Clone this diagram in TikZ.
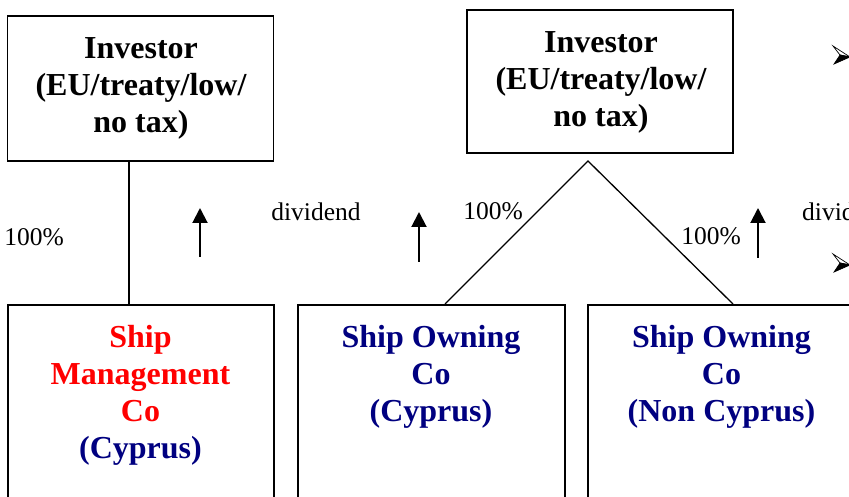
\documentclass[tikz,border=0pt]{standalone}
\usepackage{fontspec}
\setmainfont{Liberation Serif}
\usetikzlibrary{arrows.meta}
\definecolor{navyco}{RGB}{0,0,128}
\definecolor{redco}{RGB}{255,0,0}
\begin{document}
\begin{tikzpicture}[x=1pt,y=1pt,
  box/.style={draw, line width=1.6pt, inner sep=0pt},
  boxtext/.style={font=\fontsize{32}{37}\selectfont\bfseries, align=center, inner sep=0pt},
  pct/.style={font=\fontsize{25.5}{30}\selectfont, inner sep=0pt},
  link/.style={line width=1.3pt},
  flow/.style={line width=2pt, -{Triangle[length=15pt,width=15pt]}},
  % three-d arrowhead bullet: light upper half, dark lower half
  pics/arrowbullet/.style={code={
    \filldraw[fill=white, draw=black, line width=0.7pt, line join=miter]
      (0,9) -- (17,-2) -- (7,0) -- cycle;
    \filldraw[fill=black, draw=black, line width=0.7pt, line join=miter]
      (7,0) -- (17,-2) -- (1,-9) -- cycle;
  }}]
\useasboundingbox (0,0) rectangle (849,-497);
\clip (0,0) rectangle (849,-497);

% investors
\node[box, minimum width=266, minimum height=145] (invA) at (140.5,-88.5) {};
\node[boxtext] (invAtxt) at (141,-88) {Investor\\(EU/treaty/low/\\no tax)};
\node[box, minimum width=266, minimum height=143] (invB) at (600,-81.5) {};
\node[boxtext] (invBtxt) at (601,-82) {Investor\\(EU/treaty/low/\\no tax)};

% companies
\node[box, minimum width=266, minimum height=220, anchor=north] (smc) at (141,-304) {};
\node[box, minimum width=267, minimum height=220, anchor=north] (soc) at (431.5,-304) {};
\node[box, minimum width=267, minimum height=220, anchor=north] (sonc) at (721.5,-304) {};

\node[boxtext, anchor=north] (smctxt) at (140.5,-325) {\textcolor{redco}{Ship}\\\textcolor{redco}{Management}\\\textcolor{redco}{Co}\\\textcolor{navyco}{(Cyprus)}};
\node[boxtext, anchor=north] (soctxt) at (431,-325) {\textcolor{navyco}{Ship Owning}\\\textcolor{navyco}{Co}\\\textcolor{navyco}{(Cyprus)}};
\node[boxtext, anchor=north] (sonctxt) at (721.5,-325) {\textcolor{navyco}{Ship Owning}\\\textcolor{navyco}{Co}\\\textcolor{navyco}{(Non Cyprus)}};

% shareholding links
\draw[link] ([xshift=-11.5]invA.south) -- ([xshift=-11.5]invA.south |- smc.north);
\coordinate (apex) at (588,-161);
\coordinate (socTop) at (445,-304);
\coordinate (soncTop) at (733,-304);
\draw[link] (socTop) -- (apex) -- (soncTop);

% dividend flows
\coordinate (d1a) at (200,-257); \coordinate (d1b) at (200,-208);
\coordinate (d2a) at (419,-262); \coordinate (d2b) at (419,-212);
\coordinate (d3a) at (758,-258); \coordinate (d3b) at (758,-208);
\draw[flow] (d1a) -- (d1b);
\draw[flow] (d2a) -- (d2b);
\draw[flow] (d3a) -- (d3b);

% labels
\node[pct] (p1) at (34,-237) {100\%};
\node[pct] (dv1) at (316,-211.5) {dividend};
\node[pct] (p2) at (493,-211.5) {100\%};
\node[pct] (p3) at (711,-236) {100\%};
\node[pct, anchor=west] (dv2) at (802,-211.5) {dividend};

% bullets
\pic at (833,-55) {arrowbullet};
\pic at (833,-263) {arrowbullet};
\end{tikzpicture}
\end{document}
